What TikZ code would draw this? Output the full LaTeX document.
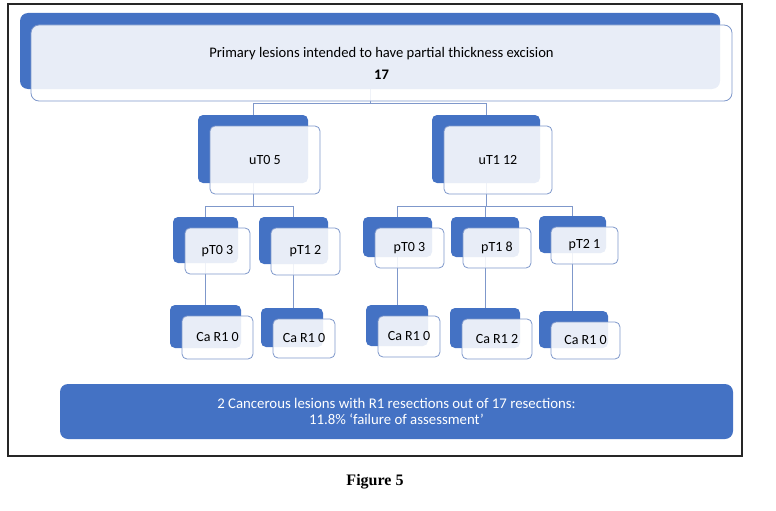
\documentclass[tikz,border=0pt]{standalone}
\usepackage{fontspec}
\setmainfont{Carlito}
\newfontfamily\capfont{Liberation Serif}
\usetikzlibrary{backgrounds}

\definecolor{boxblue}{HTML}{4472C4}
\definecolor{edgeblue}{HTML}{7F98CB}

\tikzset{
	backbox/.style={fill=boxblue, rounded corners=5pt, inner sep=0pt},
	frontbox/.style={draw=edgeblue, line width=0.8pt, fill=white, fill opacity=0.88, text opacity=1,
		rounded corners=5pt, inner sep=0pt, align=center, font=\fontsize{14}{16}\selectfont},
	link/.style={draw=edgeblue, line width=0.9pt},
}

\begin{document}
\begin{tikzpicture}[x=1pt, y=-1pt]
	\useasboundingbox (0,0) rectangle (776,511);
	\draw[line width=1.3pt, black!85] (8,4) rectangle (742,456);
	
	% top box
	\node[backbox, rounded corners=8pt, minimum width=700pt, minimum height=76pt] (bg-top) at (370,51) {};
	\node[frontbox, rounded corners=8pt, minimum width=701pt, minimum height=76pt, font=\fontsize{14.6}{16}\selectfont] (top) at (381.5,63)
		{Primary lesions intended to have partial thickness excision\\[6pt] \textbf{17}};
	
	% box pairs: blue one behind, pale one in front
	\foreach \n/\x/\y/\w/\h/\t in {
			uT0/253/149/110/68/{uT0 5},  uT1/486/149/108/68/{uT1 12},
			pT0l/205.5/240/65/46/{pT0 3}, pT1l/293.5/240.5/69/47/{pT1 2},
			pT0r/397.5/237/69/40/{pT0 3}, pT1r/485/237/68/40/{pT1 8}, pT2r/572.5/234.5/67/37/{pT2 1},
			Ca1/205.5/326.5/71/43/{Ca R1 0}, Ca2/292/327.5/62/39/{Ca R1 0}, Ca3/397/325.5/62/41/{Ca R1 0},
			Ca4/485/328/70/40/{Ca R1 2}, Ca5/573.5/329.5/69/37/{Ca R1 0}}
	{
		\node[backbox, minimum width=\w pt, minimum height=\h pt] (bg-\n) at (\x,\y) {};
		\node[frontbox, minimum width=\w pt, minimum height=\h pt] (\n) at (\x+12,\y+11) {\t};
	}
	
	% connectors
	\begin{scope}[on background layer]
		\draw[link] (bg-top.south) -- ++(0,14) -| (bg-uT0.north);
		\draw[link] (bg-top.south) -- ++(0,14) -| (bg-uT1.north);
		\foreach \p in {pT0l, pT1l}
			\draw[link] (bg-uT0.south) -- ++(0,23) -| (bg-\p.north);
		\foreach \p in {pT0r, pT1r, pT2r}
			\draw[link] (bg-uT1.south) -- ++(0,23) -| (bg-\p.north);
		\foreach \p/\c in {pT0l/Ca1, pT1l/Ca2, pT0r/Ca3, pT1r/Ca4, pT2r/Ca5}
			\draw[link] (bg-\p.south) -- (bg-\p.south |- bg-\c.north);
	\end{scope}
	
	% summary
	\node[fill=boxblue, rounded corners=8pt, minimum width=673pt, minimum height=55pt, text=white,
		align=center, font=\fontsize{14.8}{16}\selectfont] (summary) at (396.5,411.5)
		{2 Cancerous lesions with R1 resections out of 17 resections:\\ 11.8\% ‘failure of assessment’};
	
	\node[font=\capfont\bfseries\fontsize{16}{18}\selectfont] (caption) at (375,482) {Figure 5};
\end{tikzpicture}
\end{document}
